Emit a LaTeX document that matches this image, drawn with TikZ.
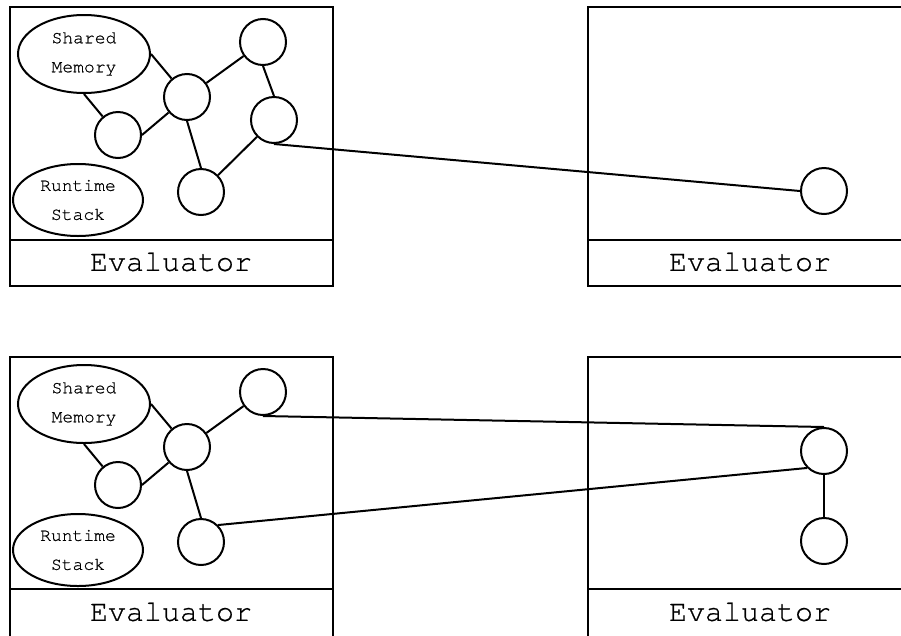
\documentclass[tikz,border=0pt]{standalone}
\usepackage{fontspec}
\setmonofont[UprightFeatures={FakeBold=0.6}]{TeX Gyre Cursor}
\usetikzlibrary{shapes.geometric}
\begin{document}
\begin{tikzpicture}[x=1pt,y=-1pt,line width=2pt,
  vertex/.style={draw,circle,minimum size=46pt,inner sep=0pt},
  store/.style={draw,ellipse,inner sep=0pt,align=center,
    font=\ttfamily\fontsize{18}{29}\selectfont},
  evlabel/.style={font=\ttfamily\fontsize{30}{30}\selectfont},
  link/.style={line width=2pt}]
\useasboundingbox (0,0) rectangle (901,635);
\begin{scope}
\clip (0,0) rectangle (901,635);

% ---- upper pair of evaluators ----
\draw (10,7) rectangle (333,286);
\draw (10,240) -- (333,240);
\node[evlabel] (ev1) at (171,262) {Evaluator};

\draw (588,7) rectangle (912,286);
\draw (588,240) -- (912,240);
\node[evlabel] (ev2) at (750,262) {Evaluator};

\node[store,minimum width=132pt,minimum height=78pt] (sm1) at (84,54) {Shared\\Memory};
\node[store,minimum width=130pt,minimum height=72pt] (rs1) at (78,200) {Runtime\\Stack};
\node[vertex] (a1) at (118,135) {};
\node[vertex] (b1) at (187,97) {};
\node[vertex] (c1) at (263,42) {};
\node[vertex] (d1) at (274,120) {};
\node[vertex] (e1) at (201,192) {};
\node[vertex] (r1) at (824,191) {};

\draw[link] (sm1.east) -- (b1);
\draw[link] (sm1.south) -- (a1);
\draw[link] (a1.east) -- (b1);
\draw[link] (b1) -- (c1);
\draw[link] (c1.south) -- (d1.north);
\draw[link] (b1.south) -- (e1.north);
\draw[link] (e1) -- (d1);
\draw[link] (d1.south) -- (r1.west);

% ---- lower pair of evaluators ----
\draw (10,357) rectangle (333,650);
\draw (10,589) -- (333,589);
\node[evlabel] (ev3) at (171,612) {Evaluator};

\draw (588,357) rectangle (912,650);
\draw (588,589) -- (912,589);
\node[evlabel] (ev4) at (750,612) {Evaluator};

\node[store,minimum width=132pt,minimum height=78pt] (sm2) at (84,404) {Shared\\Memory};
\node[store,minimum width=130pt,minimum height=72pt] (rs2) at (78,550) {Runtime\\Stack};
\node[vertex] (a2) at (118,485) {};
\node[vertex] (b2) at (187,447) {};
\node[vertex] (c2) at (263,392) {};
\node[vertex] (e2) at (201,542) {};
\node[vertex] (p2) at (824,451) {};
\node[vertex] (q2) at (824,541) {};

\draw[link] (sm2.east) -- (b2);
\draw[link] (sm2.south) -- (a2);
\draw[link] (a2.east) -- (b2);
\draw[link] (b2) -- (c2);
\draw[link] (b2.south) -- (e2.north);
\draw[link] (c2.south) -- (p2.north);
\draw[link] (e2.north east) -- (p2.south west);
\draw[link] (p2.south) -- (q2.north);
\end{scope}
\end{tikzpicture}
\end{document}
